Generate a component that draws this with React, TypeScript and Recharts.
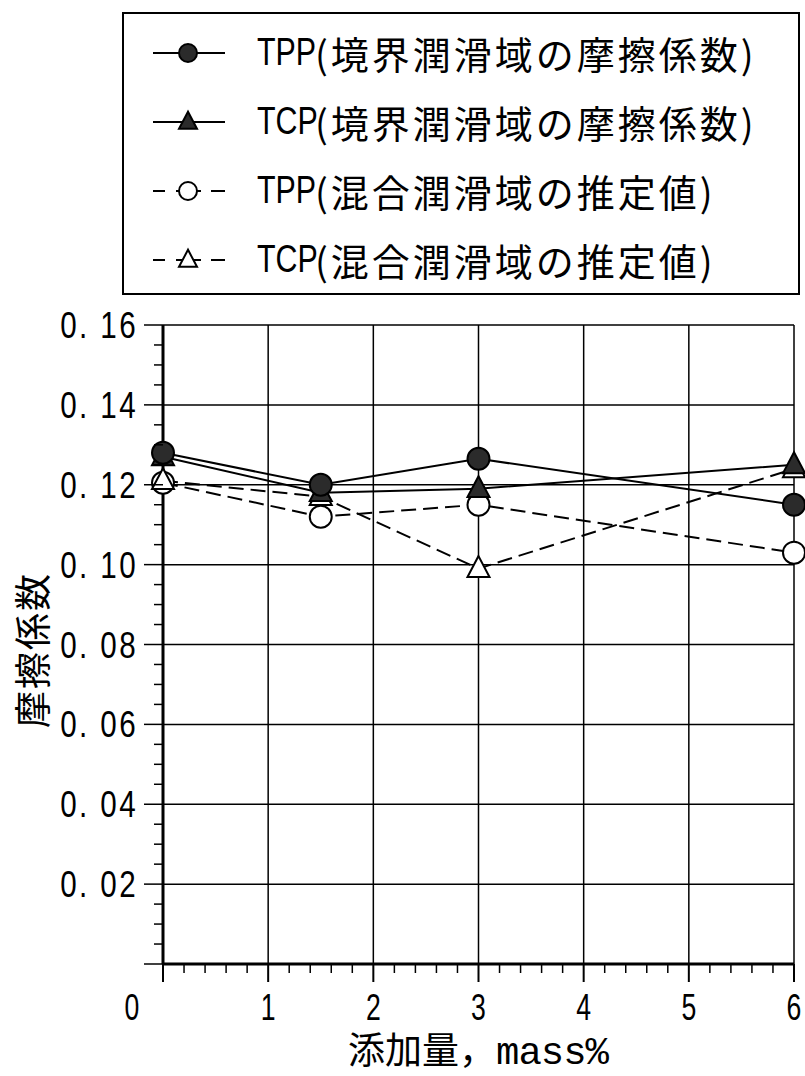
import React from 'react';
import { LineChart, Line, XAxis, YAxis, ReferenceLine, Legend } from 'recharts';

// 添加量 (mass%)
const additive = [0, 1.5, 3, 6];
// 摩擦係数
const tppBoundary = [0.128, 0.12, 0.1265, 0.115];
const tcpBoundary = [0.127, 0.118, 0.119, 0.125];
const tppMixed = [0.1205, 0.112, 0.115, 0.103];
const tcpMixed = [0.121, 0.117, 0.099, 0.124];

const seriesNames = ['TPP', 'TCP', 'TPP', 'TCP'];
const seriesNotes = ['(境界潤滑域の摩擦係数)', '(境界潤滑域の摩擦係数)', '(混合潤滑域の推定値)', '(混合潤滑域の推定値)'];
const seriesMarkers = ['circleFilled', 'triangleFilled', 'circleOpen', 'triangleOpen'];

const xGrid = [1, 2, 3, 4, 5, 6];
const yGrid = [0.02, 0.04, 0.06, 0.08, 0.1, 0.12, 0.14, 0.16];
const xTicks = Array.from({ length: 31 }, (_, i) => i / 5);
const yTicks = Array.from({ length: 33 }, (_, i) => i / 200);

const data = additive.map((x, i) => ({
  x,
  tppB: tppBoundary[i],
  tcpB: tcpBoundary[i],
  tppM: tppMixed[i],
  tcpM: tcpMixed[i],
}));

const CJK = '"Noto Sans CJK JP", sans-serif';
const SANS = '"Liberation Sans", Arial, sans-serif';
const MONO = '"Liberation Mono", "DejaVu Sans Mono", monospace';

function Marker({ kind, cx, cy, size = 11 }: { kind: string; cx: number; cy: number; size?: number }) {
  const filled = kind.endsWith('Filled');
  const fill = filled ? '#2b2b2b' : '#fff';
  if (kind.startsWith('circle')) {
    return <circle cx={cx} cy={cy} r={size} fill={fill} stroke="#000" strokeWidth={2} />;
  }
  const h = size * 1.9;
  const pts = `${cx},${cy - h * 0.6} ${cx - size},${cy + h * 0.4} ${cx + size},${cy + h * 0.4}`;
  return <polygon points={pts} fill={fill} stroke="#000" strokeWidth={2} strokeLinejoin="miter" />;
}

const makeDot = (kind: string) => (p: any) => {
  if (p.cx == null || p.cy == null) return <g key={p.index} />;
  return <Marker key={p.index} kind={kind} cx={p.cx} cy={p.cy} />;
};

const XTick = ({ x, y, payload }: any) => {
  const v = payload.value;
  const major = Math.abs(v - Math.round(v)) < 1e-6;
  const tx = x + (v === 0 ? -31 : 0);
  return (
    <g>
      <line x1={x} y1={y} x2={x} y2={y + (major ? 18 : 9)} stroke="#000" strokeWidth={major ? 2 : 1.5} />
      {major && (
        <text transform={`translate(${tx} ${y + 56}) scale(0.72 1)`} textAnchor="middle" fontFamily={SANS} fontSize={37} fill="#000">
          {Math.round(v)}
        </text>
      )}
    </g>
  );
};

const YTick = ({ x, y, payload }: any) => {
  const v = payload.value;
  const step = Math.round(v * 200);
  const major = step % 4 === 0;
  return (
    <g>
      <line x1={x - (major ? 19 : 9)} y1={y} x2={x} y2={y} stroke="#000" strokeWidth={1.5} />
      {major && step > 0 && (
        <text transform={`translate(${x - 25} ${y + 13}) scale(0.8 1)`} textAnchor="end" fontFamily={SANS} fontSize={37} letterSpacing={3} fill="#000">
          {`0. ${String(step / 2).padStart(2, '0')}`}
        </text>
      )}
    </g>
  );
};

const LegendBox = () => (
  <div
    style={{
      border: '2px solid #000',
      boxSizing: 'border-box',
      width: 678,
      height: 283,
      paddingTop: 4,
      background: '#fff',
    }}
  >
    {seriesNames.map((name, i) => {
      const dashed = i >= 2;
      return (
        <div key={i} style={{ height: 69, display: 'flex', alignItems: 'center' }}>
          <svg width={80} height={40} style={{ marginLeft: 27, flex: 'none' }}>
            {dashed ? (
              <>
                <line x1={2} y1={20} x2={14} y2={20} stroke="#000" strokeWidth={2} />
                <line x1={25} y1={20} x2={50} y2={20} stroke="#000" strokeWidth={2} />
                <line x1={60} y1={20} x2={74} y2={20} stroke="#000" strokeWidth={2} />
              </>
            ) : (
              <line x1={2} y1={20} x2={74} y2={20} stroke="#000" strokeWidth={2} />
            )}
            <Marker kind={seriesMarkers[i]} cx={37} cy={20} size={9} />
          </svg>
          <span
            style={{
              marginLeft: 26,
              fontFamily: SANS,
              fontSize: 38,
              color: '#000',
              display: 'inline-block',
              transform: 'scaleX(0.8)',
              transformOrigin: 'left center',
              width: 56,
            }}
          >
            {name}
          </span>
          <span style={{ marginLeft: 2, fontFamily: CJK, fontSize: 38, letterSpacing: 3, color: '#000' }}>
            {seriesNotes[i]}
          </span>
        </div>
      );
    })}
  </div>
);

export default function App() {
  return (
    <div style={{ position: 'absolute', left: 0, top: 0, width: 805, height: 1076, background: '#fff' }}>
      <LineChart width={805} height={1076} data={data} margin={{ top: 325, right: 11, bottom: 82, left: 103 }}>
        <XAxis
          dataKey="x"
          type="number"
          domain={[0, 6]}
          ticks={xTicks}
          interval={0}
          height={30}
          tickSize={0}
          tickMargin={0}
          tickLine={false}
          tick={<XTick />}
          axisLine={{ stroke: '#000', strokeWidth: 3 }}
        />
        <YAxis
          type="number"
          domain={[0, 0.16]}
          ticks={yTicks}
          interval={0}
          width={60}
          tickSize={0}
          tickMargin={0}
          tickLine={false}
          tick={<YTick />}
          axisLine={{ stroke: '#000', strokeWidth: 3 }}
        />
        {yGrid.map((v) => (
          <ReferenceLine key={`y${v}`} y={v} stroke="#000" strokeWidth={1.5} />
        ))}
        {xGrid.map((v) => (
          <ReferenceLine key={`x${v}`} x={v} stroke="#000" strokeWidth={1.5} />
        ))}
        <Line type="linear" dataKey="tppM" stroke="#000" strokeWidth={2} strokeDasharray="15 7" dot={makeDot('circleOpen')} activeDot={false} isAnimationActive={false} />
        <Line type="linear" dataKey="tcpM" stroke="#000" strokeWidth={2} strokeDasharray="15 7" dot={makeDot('triangleOpen')} activeDot={false} isAnimationActive={false} />
        <Line type="linear" dataKey="tcpB" stroke="#000" strokeWidth={2} dot={makeDot('triangleFilled')} activeDot={false} isAnimationActive={false} />
        <Line type="linear" dataKey="tppB" stroke="#000" strokeWidth={2} dot={makeDot('circleFilled')} activeDot={false} isAnimationActive={false} />
        <Legend
          layout="vertical"
          align="center"
          verticalAlign="middle"
          content={<LegendBox />}
          wrapperStyle={{ top: 12, left: 122, width: 678, height: 283 }}
        />
        <text x={31} y={650} transform="rotate(-90 31 650)" textAnchor="middle" dominantBaseline="central" fontFamily={CJK} fontSize={37} letterSpacing={2} fill="#000">
          摩擦係数
        </text>
        <text x={348} y={1064} fontFamily={CJK} fontSize={37} fill="#000">
          添加量，
          <tspan fontFamily={MONO} fontSize={39} letterSpacing={-1}>
            mass%
          </tspan>
        </text>
      </LineChart>
    </div>
  );
}
